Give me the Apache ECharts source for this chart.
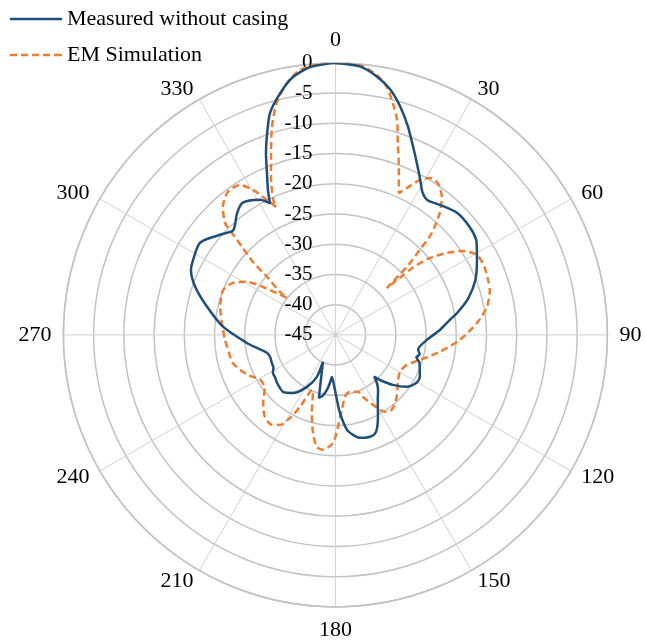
<!DOCTYPE html>
<html>
<head>
<meta charset="utf-8">
<script src="https://cdn.jsdelivr.net/npm/echarts@6/dist/echarts.min.js"></script>
<style>
  html, body { margin: 0; padding: 0; background: #fff; }
  #chart { width: 645px; height: 644px; }
</style>
</head>
<body>
<div id="chart"></div>
<script>
// Radiation pattern, normalised gain in dB versus azimuth angle in degrees.
const measuredAngle = [
  0, 5.2, 9.1, 12.6, 15.8, 19.2, 22.4, 25.3, 28.6, 31.5, 34.4, 38.8, 44.9, 51.2, 56, 59,
  62.1, 68.5, 74.6, 79.7, 82.5, 87.3, 93, 100, 103, 105.5, 108, 110.7, 116.4, 120.5, 126,
  131, 135.3, 137, 139.2, 142.5, 146.8, 152.6, 156.4, 158.8, 161.3, 164, 166.6, 170, 173.1, 176.7,
  180.5, 182.5, 184.8, 186.5, 188.8, 191.5, 194.7, 197.9, 204.8, 203.8, 208.7, 216.2,
  222.6, 230.6, 235, 238.7, 242, 246.2, 251, 255.3, 260.6, 264.8, 274.1, 282.3, 288.9,
  294.2, 296.6, 304.2, 310.9, 315.7, 321.1, 325, 330.8, 333.6, 335, 337.1, 339.1, 341.3,
  343.6, 347.1, 350.6, 354.6, 360
];
const measuredDb = [
  0, -0.4, -1.7, -3.4, -5.7, -8.5, -11.3, -13.5, -15.7, -17.4, -18.0, -17.4, -16.5, -16.5, -16.9, -17.7,
  -18.5, -20.1, -22.2, -24.5, -25.9, -27.7, -29.8, -31.1, -30.7, -31.1, -30.4, -30.1, -29.4, -29.4, -30.4,
  -32.4, -34.5, -35.6, -34.5, -33.4, -32.2, -29.7, -27.9, -27.3, -27.2, -27.3, -27.5, -28.2, -29.2, -32.1,
  -35.9, -37.2, -38.0, -37.0, -35.8, -34.8, -34.2, -37.2, -40.1, -37.4, -35.2, -33.1,
  -32.2, -32.5, -32.8, -32.9, -33.4, -33.5, -33.6, -33.3, -31.8, -30.3, -26.4, -23.3, -20.5,
  -18.8, -18.5, -17.9, -19.7, -20.8, -19.1, -18.3, -19.4, -20.7, -18.6, -15.9, -12.8, -9.8,
  -6.7, -4.0, -1.8, -0.5, 0
];

const simAngle = [
  0, 5.2, 9.1, 11.7, 13.9, 16, 18, 20.7, 24.1, 25.9, 28.6, 31, 34, 37.7, 40.6, 43.4, 44.8,
  46.4, 47.6, 48.5, 49, 50.8, 53.7, 56.6, 60.5, 65.5, 71.2, 73.8, 79.5, 85.2, 92.3, 99.2,
  106.5, 112.8, 119.8, 127.5, 135.2, 143, 147.3, 151.8, 156.1, 158.5, 165.7, 171.3, 175,
  178.4, 181.3, 186.2, 189.4, 192.9, 196.8, 201.2, 203.1, 204.6, 206.2, 208.7, 211.7,
  215.2, 220.7, 226.8, 233.1, 239.2, 245.7, 254.7, 263.7, 267.4, 272.5, 276, 283.6, 291.8,
  296.9, 300.9, 303.5, 307.3, 307.8, 310.3, 311.5, 313.3, 314.6, 315.4, 318.7, 323.1, 327.5,
  330.4, 333.1, 335.2, 335.3, 337.8, 340.5, 343, 345.8, 349.1, 352.4, 356, 360
];
const simDb = [
  0, -0.2, -1.5, -3.1, -5.5, -8.0, -11.6, -15.3, -19.3, -18.0, -15.8, -14.7, -14.7, -16.2, -18.5, -21.8, -25.2,
  -28.7, -33.5, -30.5, -28.0, -24.9, -22.1, -19.8, -18.1, -17.9, -18.2, -18.4, -19.5, -21.5, -24.4, -27.5,
  -30.4, -32.2, -32.7, -32.0, -30.6, -29.5, -29.9, -31.9, -33.8, -34.9, -35.3, -34.6, -32.6,
  -29.8, -27.1, -25.9, -26.2, -28.4, -31.5, -34.7, -35.1, -34.1, -31.7, -29.3, -27.5,
  -26.8, -27.1, -28.6, -30.4, -30.5, -29.0, -27.4, -27.0, -26.7, -26.4, -26.1, -25.4, -25.0,
  -26.0, -27.9, -30.6, -34.9, -33.4, -30.2, -26.8, -23.8, -21.0, -19.0, -16.8, -15.4, -15.6,
  -17.4, -20.0, -21.7, -20.4, -16.8, -13.1, -9.1, -5.4, -2.6, -0.8, -0.1, 0
];

const radiusMin = -45;
const radiusMax = 0;
const radiusStep = 5;
const angleStep = 30;

const seriesNames = ['Measured without casing', 'EM Simulation'];
const seriesColors = ['#1f4e79', '#ed7d31'];

const toPolar = (angles, values) => angles.map((a, i) => [values[i], a]);

// Legend swatches: a solid bar and a dashed bar, both 52 x 2.5.
const solidIcon = 'path://M0,0H52V2.5H0Z';
const dashedIcon = 'path://M0,0H7V2.5H0Z M11,0H18V2.5H11Z M22,0H29V2.5H22Z M33,0H40V2.5H33Z M44,0H52V2.5H44Z';

const font = '"Liberation Serif", "Times New Roman", serif';
const labelFont = { fontFamily: font, fontSize: 22, color: '#000' };

// Diagonal angle labels sit centred on their anchor point: the upper ones are
// bottom-anchored and the lower ones top-anchored, so pull each by half a line.
function angleLabel(v) {
  if (v === 360) return '';
  const a = v % 180;
  if (a === 0 || a === 90) return String(v);
  return (v < 90 || v > 270) ? '{up|' + v + '}' : '{dn|' + v + '}';
}

const chart = echarts.init(document.getElementById('chart'), null, { renderer: 'canvas' });

chart.setOption({
  animation: false,
  backgroundColor: '#ffffff',
  textStyle: { fontFamily: font, color: '#000' },
  legend: {
    orient: 'vertical',
    left: 5,
    top: 2,
    itemWidth: 52,
    itemHeight: 2.5,
    itemGap: 12,
    textStyle: { fontFamily: font, fontSize: 22, lineHeight: 24, color: '#000' },
    data: [
      { name: seriesNames[0], icon: solidIcon },
      { name: seriesNames[1], icon: dashedIcon }
    ]
  },
  polar: {
    center: ['52%', '52%'],
    radius: 272
  },
  angleAxis: {
    type: 'value',
    min: 0,
    max: 360,
    interval: angleStep,
    startAngle: 90,
    clockwise: true,
    axisLine: { show: true, lineStyle: { color: '#c3c3c3', width: 1.5 } },
    axisTick: { show: false },
    axisLabel: {
      margin: 12,
      ...labelFont,
      formatter: angleLabel,
      rich: {
        up: { ...labelFont, padding: [0, 0, -11, 0] },
        dn: { ...labelFont, padding: [-11, 0, 0, 0] }
      }
    },
    splitLine: { show: true, lineStyle: { color: '#d0d0d0', width: 1 } }
  },
  radiusAxis: {
    type: 'value',
    min: radiusMin,
    max: radiusMax,
    interval: radiusStep,
    axisLine: { show: false },
    axisTick: { show: false },
    axisLabel: {
      fontFamily: font,
      fontSize: 21,
      color: '#000',
      margin: 23
    },
    splitLine: { show: true, lineStyle: { color: '#c3c3c3', width: 1.5 } }
  },
  series: [
    {
      name: seriesNames[0],
      type: 'line',
      coordinateSystem: 'polar',
      data: toPolar(measuredAngle, measuredDb),
      showSymbol: false,
      symbol: 'none',
      smooth: 0.25,
      color: seriesColors[0],
      lineStyle: { color: seriesColors[0], width: 2.5 },
      z: 3
    },
    {
      name: seriesNames[1],
      type: 'line',
      coordinateSystem: 'polar',
      data: toPolar(simAngle, simDb),
      showSymbol: false,
      symbol: 'none',
      smooth: 0.25,
      color: seriesColors[1],
      lineStyle: { color: seriesColors[1], width: 2.5, type: [7, 4] },
      z: 2
    }
  ]
});
</script>
</body>
</html>
